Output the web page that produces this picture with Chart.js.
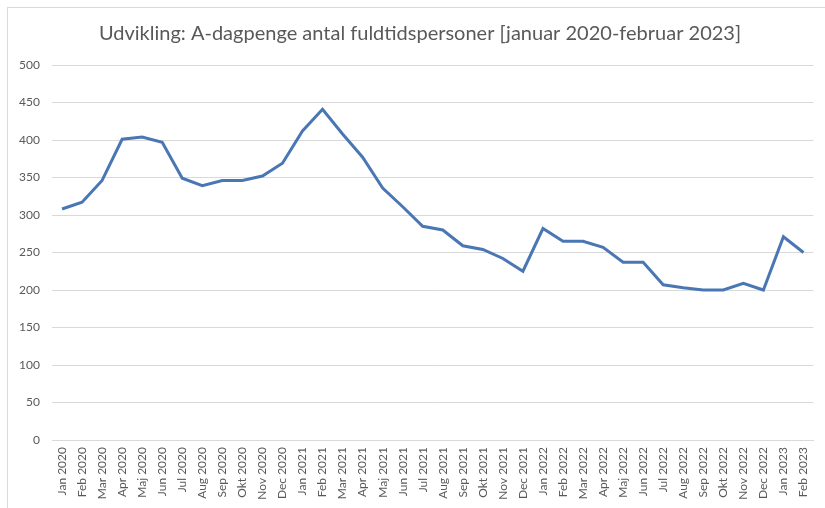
<!DOCTYPE html>
<html>
<head>
<meta charset="utf-8">
<script src="https://cdn.jsdelivr.net/npm/chart.js@4/dist/chart.umd.min.js"></script>
<style>
  html, body { margin: 0; padding: 0; background: #fff; }
  #wrap { position: relative; width: 825px; height: 508px; }
  #frame { position: absolute; left: 7px; top: 7px; width: 830px; height: 520px;
           border-left: 1px solid #d9d9d9; border-top: 1px solid #d9d9d9; }
  canvas { position: absolute; left: 0; top: 0; }
</style>
</head>
<body>
<div id="wrap">
  <div id="frame"></div>
  <canvas id="chart" width="825" height="508"></canvas>
</div>
<script>
const months = ['Jan', 'Feb', 'Mar', 'Apr', 'Maj', 'Jun', 'Jul', 'Aug', 'Sep', 'Okt', 'Nov', 'Dec'];
const years = [2020, 2021, 2022, 2023];

// Jan 2020 .. Feb 2023
const labels = [];
years.forEach(y => months.forEach((m, i) => {
    if (y === 2023 && i > 1) return;
    labels.push(m + ' ' + y);
}));

const values2020 = [308, 317, 346, 401, 404, 397, 349, 339, 346, 346, 352, 369];
const values2021 = [412, 441, 408, 377, 336, 311, 285, 280, 259, 254, 242, 225];
const values2022 = [282, 265, 265, 257, 237, 237, 207, 203, 200, 200, 209, 200];
const values2023 = [271, 250];

const values = [...values2020, ...values2021, ...values2022, ...values2023];

const yTicks = { min: 0, max: 500, step: 50 };

const titleText = 'Udvikling: A-dagpenge antal fuldtidspersoner [januar 2020-februar 2023]';
const textColor = '#595959';
const gridColor = '#d9d9d9';

// title drawn centred on the whole picture (built-in title sits a bit left)
const titlePlugin = {
    id: 'centerTitle',
    afterDraw(chart) {
        const ctx = chart.ctx;
        ctx.save();
        ctx.font = '20px Lato';
        ctx.fillStyle = textColor;
        ctx.textAlign = 'center';
        ctx.textBaseline = 'middle';
        ctx.fillText(titleText, 420, 34);
        ctx.restore();
    }
};

new Chart(document.getElementById('chart').getContext('2d'), {
    type: 'line',
    data: {
        labels: labels,
        datasets: [{
            label: 'A-dagpenge',
            data: values,
            borderColor: '#4a77b4',
            borderWidth: 3,
            pointRadius: 0,
            tension: 0,
            fill: false
        }]
    },
    plugins: [titlePlugin],
    options: {
        responsive: false,
        animation: false,
        layout: { padding: { left: 8, right: 10, top: 65, bottom: 0 } },
        plugins: {
            legend: { display: false },
            tooltip: { enabled: false },
            title: { display: false }
        },
        scales: {
            x: {
                offset: true,
                grid: { display: false, drawTicks: false },
                border: { display: true, color: gridColor },
                ticks: {
                    color: textColor,
                    font: { family: 'Lato', size: 12 },
                    maxRotation: 90,
                    minRotation: 90,
                    autoSkip: false,
                    padding: 7
                },
                afterFit: s => { s.height = 68; }
            },
            y: {
                min: yTicks.min,
                max: yTicks.max,
                grid: { color: gridColor, drawTicks: false },
                border: { display: false },
                ticks: {
                    stepSize: yTicks.step,
                    color: textColor,
                    font: { family: 'Lato', size: 12 },
                    padding: 12
                },
                afterFit: s => { s.width = 44; }
            }
        }
    }
});
</script>
</body>
</html>
